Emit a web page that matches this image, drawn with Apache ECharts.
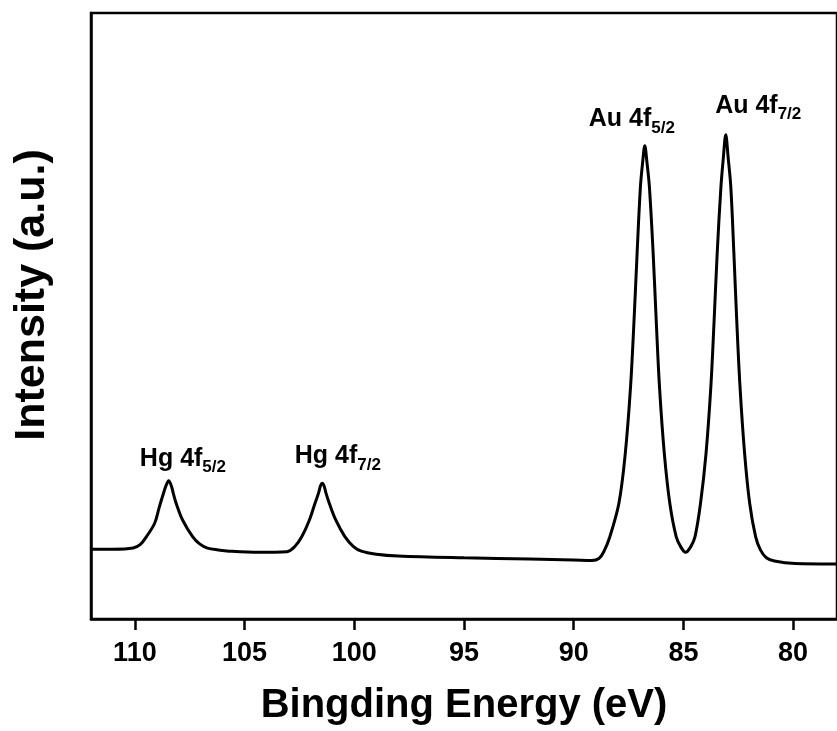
<!DOCTYPE html>
<html>
<head>
<meta charset="utf-8">
<script src="https://cdn.jsdelivr.net/npm/echarts@6/dist/echarts.min.js"></script>
<style>
	html, body { margin: 0; padding: 0; background: #fff; }
	#main { width: 837px; height: 731px; }
</style>
</head>
<body>
<div id="main"></div>
<script>
// XPS spectrum, binding energy (eV) vs intensity (a.u.)
var energy = [
	112.0, 111.0, 110.08, 109.75, 109.47, 109.10, 108.90, 108.70, 108.58, 108.46, 108.34, 108.24, 108.12, 107.82, 107.37, 107.05, 106.69, 106.2,
	105.7, 104.35, 103.07, 102.7, 102.39, 102.05, 101.79, 101.62, 101.54, 101.46, 101.38, 101.30, 101.14, 100.84, 100.43, 100.05, 99.68, 99.0,
	98.0, 95.0, 92.0, 90.0, 89.17, 88.85, 88.63, 88.36, 87.94, 87.65, 87.41, 87.25, 87.11, 86.96, 86.86, 86.76,
	86.66, 86.55, 86.38, 86.24, 86.09, 85.87, 85.62, 85.33, 85.12, 84.90, 84.67, 84.47, 84.22, 83.97, 83.75,
	83.60, 83.46, 83.29, 83.18, 83.07, 82.96, 82.84, 82.70, 82.57, 82.42, 82.21, 81.98, 81.71, 81.49, 81.22, 80.85,
	79.91, 78.24, 78.0
];
var intensity = [
	11.5, 11.5, 11.7, 12.3, 13.6, 15.8, 18.3, 20.7, 22.0, 22.8, 22.0, 20.6, 19.1, 16.3, 13.6, 12.4, 11.7, 11.4,
	11.2, 11.0, 11.1, 12.0, 13.6, 16.3, 19.1, 20.9, 22.0, 22.4, 22.0, 20.9, 19.1, 16.3, 13.6, 12.0, 11.2, 10.7,
	10.4, 10.1, 9.9, 9.75, 9.65, 9.98, 11.1, 13.5, 19.1, 27.3, 38.3, 49.3, 60.4, 71.3, 75.3, 78.1,
	75.3, 71.3, 60.4, 49.3, 38.3, 27.3, 19.1, 13.6, 11.9, 11.0, 11.9, 13.6, 19.1, 27.3, 38.3,
	49.3, 60.4, 71.3, 76.1, 79.9, 76.1, 71.3, 60.4, 49.3, 38.3, 27.3, 19.1, 13.6, 11.4, 10.1, 9.57,
	9.16, 9.08, 9.08
];
var xTicks = [110, 105, 100, 95, 90, 85, 80];

// peak annotations
var peakNames = ['Hg 4f', 'Hg 4f', 'Au 4f', 'Au 4f'];
var peakSubs = ['5/2', '7/2', '5/2', '7/2'];
var peakLabelE = [107.81, 100.75, 87.35, 81.59];
var peakLabelI = [23.55, 24.0, 79.65, 81.9];

var font = 'Arial, "Liberation Sans", sans-serif';

var lineData = energy.map(function (e, i) { return [e, intensity[i]]; });
var labelData = peakLabelE.map(function (e, i) {
	return { value: [e, peakLabelI[i]], name: '{m|' + peakNames[i] + '}{s|' + peakSubs[i] + '}' };
});

var myChart = echarts.init(document.getElementById('main'));
var option = {
	animation: false,
	backgroundColor: '#fff',
	grid: {
		left: 91,
		right: -7,
		top: 13,
		bottom: 112,
		show: true,
		borderColor: '#000',
		borderWidth: 2.5,
		backgroundColor: 'transparent'
	},
	xAxis: {
		type: 'value',
		inverse: true,
		min: 78,
		max: 112,
		name: 'Bingding Energy (eV)',
		nameLocation: 'middle',
		nameGap: 67,
		nameTextStyle: { fontFamily: font, fontWeight: 'bold', fontSize: 40, color: '#000' },
		axisLine: { show: true, lineStyle: { color: '#000', width: 2.5 } },
		axisTick: { show: true, inside: false, length: 11, lineStyle: { color: '#000', width: 2.5 }, customValues: xTicks },
		axisLabel: { margin: 21, fontFamily: font, fontWeight: 'bold', fontSize: 27, color: '#000', customValues: xTicks },
		splitLine: { show: false }
	},
	yAxis: {
		type: 'value',
		min: 0,
		max: 100,
		name: 'Intensity (a.u.)',
		nameLocation: 'middle',
		nameGap: 37,
		nameTextStyle: { fontFamily: font, fontWeight: 'bold', fontSize: 43, color: '#000', padding: [0, 0, 0, 42] },
		axisLine: { show: true, lineStyle: { color: '#000', width: 2.5 } },
		axisTick: { show: false },
		axisLabel: { show: false },
		splitLine: { show: false }
	},
	series: [
		{
			name: 'XPS',
			type: 'line',
			data: lineData,
			showSymbol: false,
			smooth: 0.35,
			lineStyle: { color: '#000', width: 3 },
			itemStyle: { color: '#000' }
		},
		{
			name: 'labels',
			type: 'scatter',
			data: labelData,
			symbolSize: 0,
			itemStyle: { color: '#000', opacity: 1 },
			label: {
				show: true,
				position: 'top',
				distance: 0,
				color: '#000',
				formatter: function (p) { return p.name; },
				rich: {
					m: { fontFamily: font, fontWeight: 'bold', fontSize: 25, color: '#000', lineHeight: 34 },
					s: { fontFamily: font, fontWeight: 'bold', fontSize: 17, color: '#000', lineHeight: 17, verticalAlign: 'bottom' }
				}
			}
		}
	]
};
myChart.setOption(option);
</script>
</body>
</html>
